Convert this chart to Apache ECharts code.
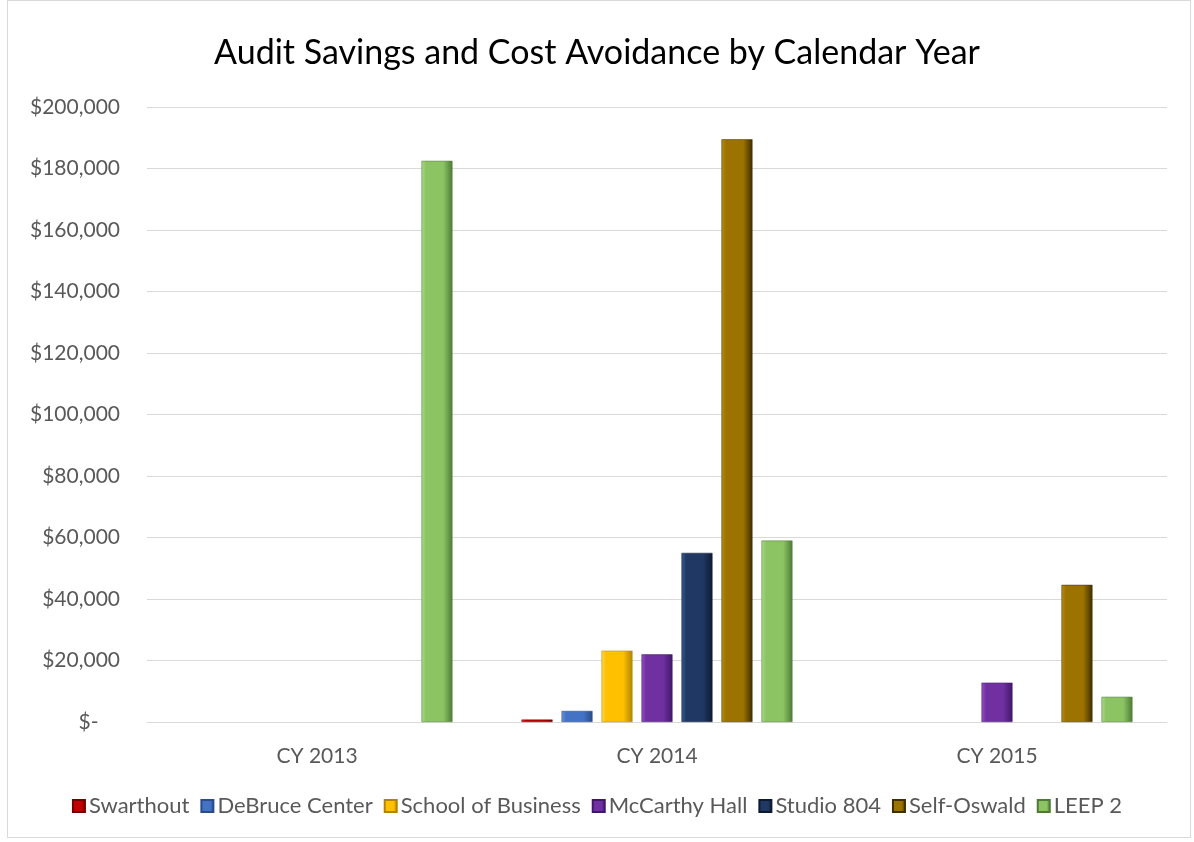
<!DOCTYPE html>
<html>
<head>
<meta charset="utf-8">
<script src="https://cdn.jsdelivr.net/npm/echarts@6/dist/echarts.min.js"></script>
<style>
html,body{margin:0;padding:0;background:#fff;}
#frame{position:absolute;left:7px;top:0;width:1184px;height:838px;border:1px solid #d9d9d9;box-sizing:border-box;}
#main{position:absolute;left:0;top:0;width:1194px;height:842px;}
</style>
</head>
<body>
<div id="frame"></div>
<div id="main"></div>
<script>
const categories = ['CY 2013', 'CY 2014', 'CY 2015'];
const seriesNames = ['Swarthout', 'DeBruce Center', 'School of Business', 'McCarthy Hall', 'Studio 804', 'Self-Oswald', 'LEEP 2'];
const swarthout = [null, 800, null];
const debruce = [null, 3600, null];
const schoolOfBusiness = [null, 23200, null];
const mccarthyHall = [null, 22000, 12800];
const studio804 = [null, 55000, null];
const selfOswald = [null, 189500, 44600];
const leep2 = [182500, 59000, 8200];
const yTicks = [0, 20000, 40000, 60000, 80000, 100000, 120000, 140000, 160000, 180000, 200000];

const seriesValues = [swarthout, debruce, schoolOfBusiness, mccarthyHall, studio804, selfOswald, leep2];
const baseColors = ['#C00000', '#4472C4', '#FFC000', '#7030A0', '#203864', '#9C7300', '#8CC464'];
const lightColors = ['#E03030', '#6A94DA', '#FFD84D', '#9450C8', '#3A5A94', '#B88C10', '#A8D888'];
const darkColors = ['#700000', '#2A4C8A', '#B08500', '#40186A', '#0E1A30', '#3E2E00', '#4E7A36'];

function grad(i) {
  return new echarts.graphic.LinearGradient(0, 0, 1, 0, [
    {offset: 0, color: lightColors[i]},
    {offset: 0.15, color: baseColors[i]},
    {offset: 0.7, color: baseColors[i]},
    {offset: 1, color: darkColors[i]}
  ]);
}

const chart = echarts.init(document.getElementById('main'));
const font = 'Lato, "Open Sans", sans-serif';
chart.setOption({
  animation: false,
  color: baseColors,
  textStyle: {fontFamily: font},
  title: {
    text: 'Audit Savings and Cost Avoidance by Calendar Year',
    left: 'center', top: 31,
    textStyle: {fontFamily: font, fontSize: 34, fontWeight: 'normal', color: '#000'}
  },
  grid: {left: 147, right: 27, top: 107, bottom: 120, containLabel: false},
  legend: {
    bottom: 20, left: 'center',
    icon: 'rect', itemWidth: 12, itemHeight: 12, itemGap: 11,
    textStyle: {fontFamily: font, fontSize: 22, color: '#595959', padding: [0, 0, 0, -1]},
    data: seriesNames
  },
  xAxis: {
    type: 'category', data: categories,
    axisLine: {lineStyle: {color: '#d9d9d9', width: 1}},
    axisTick: {show: false},
    axisLabel: {fontFamily: font, fontSize: 21, color: '#595959', margin: 24}
  },
  yAxis: {
    type: 'value', min: 0, max: 200000, interval: 20000,
    axisLine: {show: false}, axisTick: {show: false},
    splitLine: {lineStyle: {color: '#d9d9d9', width: 1}},
    axisLabel: {
      fontFamily: font, fontSize: 21, color: '#595959', margin: 27,
      formatter: function (v) {
        if (v === 0) return '$-    ';
        return '$' + v.toLocaleString('en-US');
      }
    }
  },
  series: seriesNames.map(function (name, i) {
    return {
      name: name, type: 'bar',
      data: seriesValues[i],
      barWidth: 31, barGap: '29%',
      itemStyle: {color: grad(i), borderColor: darkColors[i], borderWidth: 0.5},
      emphasis: {disabled: true}
    };
  })
});
</script>
</body>
</html>
